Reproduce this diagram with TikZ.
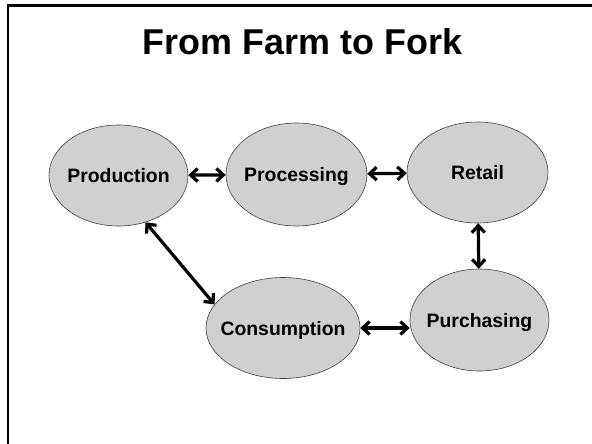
\documentclass[tikz,border=0pt]{standalone}
\usepackage{fontspec}
\setmainfont{Liberation Sans}
\usetikzlibrary{arrows.meta,shapes.geometric}
\definecolor{stagefill}{RGB}{208,208,208}
\tikzset{
	stage/.style={ellipse, draw=black!75, line width=0.6pt, fill=stagefill,
		inner xsep=-30pt, inner ysep=0pt, text height=14pt, text depth=0pt,
		font=\fontsize{19.4}{23}\selectfont\bfseries},
	link/.style={line width=3.2pt,
		arrows={Straight Barb[length=7pt,width=13pt,line width=3.2pt]-Straight Barb[length=7pt,width=13pt,line width=3.2pt]}},
}

\begin{document}
\begin{tikzpicture}[x=1pt,y=-1pt]
			%%%%% START %%%%%
			
			\useasboundingbox (0, 0) rectangle (592, 444);
			
			\draw[line width=2.5pt] (8, 450) -- (8, 5.5) -- (600, 5.5);
			
			\node[font=\fontsize{35.9}{43}\selectfont\bfseries, anchor=base] (title) at (302.5, 55) {From Farm to Fork};
			
			\node[stage, minimum width=139pt, minimum height=101pt] (prod) at (118.5, 175.5) {Production};
			\node[stage, minimum width=141pt, minimum height=103pt] (proc) at (296.5, 174.5) {Processing};
			\node[stage, minimum width=141pt, minimum height=101pt] (ret) at (477.5, 172.5) {Retail};
			\node[stage, minimum width=154pt, minimum height=101pt] (cons) at (283, 328) {Consumption};
			\node[stage, minimum width=139pt, minimum height=102pt] (purch) at (479.5, 320) {Purchasing};
			
			\draw[link] (prod) -- (proc);
			\draw[link] (proc) -- (ret);
			\draw[link] (ret) -- (purch);
			\draw[link] (cons.east) -- (cons.east -| purch.west);
			\draw[link] (prod.-60) -- (cons.161);
			
			%%%%% END %%%%%
		\end{tikzpicture}
\end{document}
